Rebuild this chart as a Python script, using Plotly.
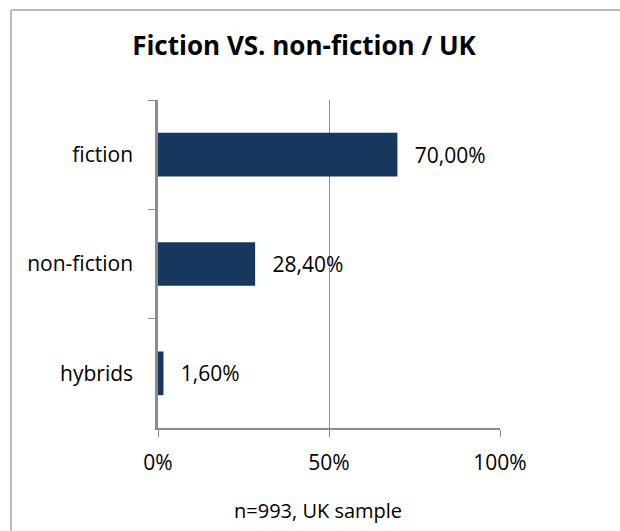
import plotly.graph_objects as go

categories = ["fiction", "non-fiction", "hybrids"]
values = [70.0, 28.4, 1.6]
x_ticks = [0, 50, 100]
x_tick_labels = ["0%", "50%", "100%"]
x_title = "n=993, UK sample"
chart_title = "Fiction VS. non-fiction / UK"

L, T = 158, 100
pw, ph = 342, 328
W, H = 660, 571  # a little larger than the window so the page edges stay out of view
R, B = W - L - pw, H - T - ph

FONT = "Open Sans"

fig = go.Figure(go.Bar(
    x=values, y=categories, orientation="h",
    marker=dict(color="#17375E", line=dict(width=0)),
    width=0.4,
    texttemplate="\u00a0\u00a0\u2009%{x:.2f}%", textposition="outside",
    textfont=dict(size=21, color="#000000", family=FONT),
    cliponaxis=False,
))

fig.update_layout(
    width=W, height=H,
    margin=dict(l=L, r=R, t=T, b=B),
    paper_bgcolor="white", plot_bgcolor="white",
    separators=",.",
    font=dict(family=FONT, size=21, color="#000000"),
    showlegend=False,
    title=dict(text="<b>" + chart_title + "</b>", x=304 / W, xanchor="center",
               y=1 - 46 / H, yanchor="middle", font=dict(size=26, family=FONT)),
    bargap=0.6,
)
fig.update_xaxes(
    range=[0, 100], tickvals=x_ticks, ticktext=x_tick_labels,
    showgrid=True, gridcolor="#8C8C8C", gridwidth=1.3,
    showline=True, linecolor="#8C8C8C", linewidth=2,
    ticks="outside", ticklen=7, tickcolor="#8C8C8C", tickwidth=1.3,
    zeroline=False,
    ticklabelstandoff=8,
    tickfont=dict(size=21),
    automargin=False,
)
fig.update_yaxes(
    autorange="reversed",
    showline=True, linecolor="#8C8C8C", linewidth=2.5,
    ticks="outside", ticklen=7, tickcolor="#8C8C8C", tickwidth=1.3,
    tickson="boundaries", showgrid=False,
    ticklabelstandoff=18,
    tickfont=dict(size=21),
    automargin=False,
)
# x-axis caption
fig.add_annotation(text=x_title, xref="paper", yref="paper",
                   x=(318 - L) / pw, y=-(510 - T - ph) / ph,
                   xanchor="center", yanchor="middle", showarrow=False,
                   font=dict(size=20, family=FONT, color="#000000"))
# chart border: only the left and top edges fall inside the picture
bx = (11 - L) / pw
by = 1 + (T - 10) / ph
border = dict(color="#A6A6A6", width=1.5)
fig.add_shape(type="line", xref="paper", yref="paper", x0=bx, x1=bx, y0=-(B + 40) / ph, y1=by, line=border)
fig.add_shape(type="line", xref="paper", yref="paper", x0=bx, x1=(W + 40 - L) / pw, y0=by, y1=by, line=border)

fig.write_html("out.html", config={"displayModeBar": False},
               post_script="document.body.style.margin='0';document.body.style.overflow='hidden';"
                           "document.documentElement.style.overflow='hidden';")
